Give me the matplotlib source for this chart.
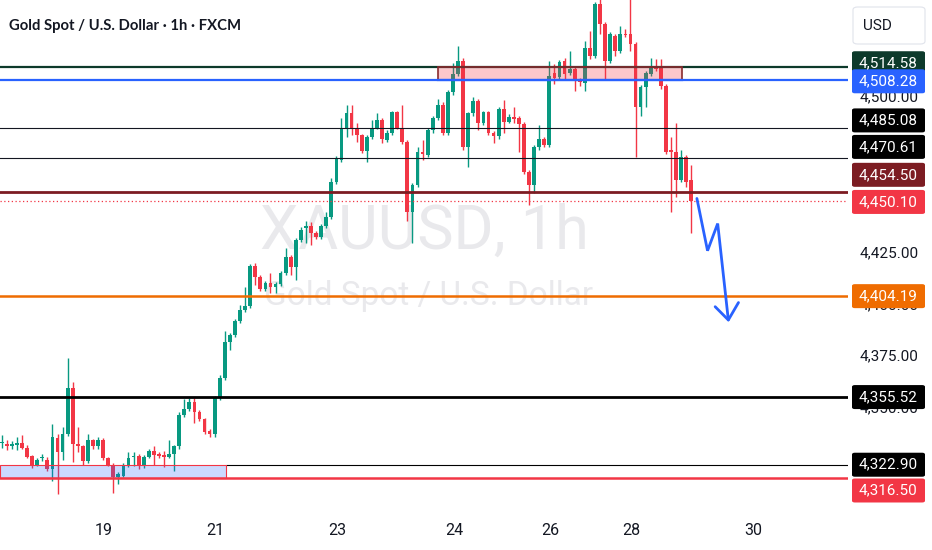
import matplotlib
matplotlib.use("Agg")
import matplotlib.pyplot as plt
from matplotlib.patches import Rectangle, FancyBboxPatch

# ---------------- data ----------------
opens = [4333.2, 4333.1, 4331.7, 4332.6, 4333.6, 4331.2, 4326.9, 4323.0, 4325.9, 4325.4,
         4320.6, 4336.0, 4328.8, 4337.9, 4360.1, 4333.1, 4331.7, 4324.5, 4334.6, 4331.7,
         4335.0, 4325.9, 4323.0, 4316.8, 4317.7, 4322.5, 4326.4, 4326.9, 4322.1, 4326.4,
         4329.3, 4327.9, 4327.4, 4326.4, 4328.3, 4331.7, 4347.1, 4350.0, 4353.3, 4348.5,
         4345.1, 4339.4, 4337.5, 4355.2, 4364.9, 4382.2, 4385.5, 4392.3, 4397.5, 4399.5,
         4418.7, 4413.4, 4407.6, 4410.5, 4408.6, 4410.1, 4415.3, 4423.0, 4418.2, 4431.2,
         4436.9, 4437.9, 4434.6, 4432.6, 4437.9, 4442.3, 4459.1, 4469.7, 4485.5, 4492.3,
         4485.5, 4481.7, 4474.0, 4480.7, 4485.5, 4488.9, 4479.3, 4483.1, 4492.8, 4485.5,
         4478.3, 4444.7, 4457.7, 4473.5, 4472.1, 4484.1, 4489.9, 4496.6, 4482.7, 4502.4,
         4511.5, 4517.8, 4475.9, 4492.3, 4498.5, 4487.5, 4492.8, 4482.7, 4481.2, 4494.2,
         4488.4, 4490.8, 4489.9, 4487.0, 4463.9, 4457.7, 4475.9, 4479.8, 4476.9, 4512.0,
         4510.0, 4517.8, 4512.0, 4513.9, 4508.6, 4507.2, 4524.0, 4520.2, 4545.2, 4535.5,
         4517.8, 4529.8, 4522.6, 4530.7, 4530.7, 4525.9, 4495.6, 4505.0, 4511.5, 4515.3,
         4514.4, 4505.7, 4474.5, 4473.5, 4460.1, 4471.1, 4460.1]
highs = [4337.0, 4335.0, 4334.1, 4336.5, 4337.0, 4332.2, 4327.4, 4325.9, 4328.3, 4326.4,
         4342.7, 4337.5, 4341.3, 4374.5, 4362.9, 4341.3, 4332.6, 4337.9, 4335.5, 4336.5,
         4336.0, 4326.4, 4323.6, 4319.2, 4323.5, 4328.8, 4328.8, 4327.9, 4327.8, 4330.7,
         4331.7, 4328.8, 4329.3, 4335.0, 4332.6, 4348.5, 4354.8, 4355.2, 4355.2, 4349.5,
         4345.6, 4340.3, 4356.2, 4366.3, 4387.5, 4386.5, 4393.2, 4399.9, 4408.6, 4419.7,
         4420.2, 4414.4, 4411.5, 4415.3, 4411.0, 4416.3, 4427.4, 4424.0, 4432.2, 4437.5,
         4440.3, 4439.9, 4435.5, 4438.9, 4444.7, 4461.0, 4471.6, 4489.9, 4496.6, 4496.6,
         4487.5, 4482.6, 4481.7, 4488.9, 4492.3, 4489.9, 4484.1, 4493.7, 4493.7, 4496.6,
         4479.3, 4458.7, 4475.9, 4479.3, 4485.1, 4490.9, 4499.5, 4497.6, 4503.4, 4516.8,
         4525.0, 4518.8, 4493.2, 4500.0, 4499.5, 4493.7, 4493.7, 4483.6, 4495.2, 4499.0,
         4491.8, 4495.2, 4490.9, 4488.0, 4464.9, 4476.9, 4486.5, 4480.7, 4517.8, 4516.3,
         4518.3, 4519.2, 4522.6, 4514.9, 4509.6, 4527.4, 4532.2, 4546.1, 4548.0, 4536.5,
         4531.6, 4530.7, 4534.6, 4533.1, 4549.0, 4526.9, 4506.0, 4513.0, 4519.2, 4518.7,
         4518.7, 4506.7, 4480.7, 4487.5, 4474.5, 4472.1, 4467.3]
lows = [4331.2, 4330.2, 4330.7, 4330.2, 4330.7, 4325.9, 4321.1, 4322.1, 4324.5, 4319.7,
        4314.9, 4308.6, 4325.4, 4336.9, 4324.0, 4328.8, 4323.0, 4323.6, 4330.7, 4330.7,
        4325.0, 4322.1, 4309.1, 4313.4, 4316.8, 4321.6, 4322.1, 4320.6, 4321.1, 4325.9,
        4323.0, 4326.0, 4321.6, 4325.9, 4320.1, 4330.7, 4346.1, 4349.0, 4343.2, 4344.2,
        4337.9, 4336.5, 4336.5, 4354.3, 4363.9, 4378.3, 4384.6, 4391.3, 4396.6, 4398.5,
        4409.6, 4406.7, 4406.7, 4405.7, 4405.7, 4409.1, 4414.4, 4414.4, 4412.0, 4430.3,
        4429.8, 4428.8, 4431.7, 4431.7, 4436.9, 4441.3, 4458.1, 4468.7, 4480.7, 4481.7,
        4478.3, 4473.0, 4468.7, 4479.8, 4484.6, 4477.9, 4478.3, 4482.1, 4484.6, 4477.4,
        4440.3, 4429.8, 4456.7, 4469.7, 4471.1, 4483.1, 4488.9, 4481.7, 4481.7, 4501.4,
        4510.5, 4474.5, 4466.3, 4491.3, 4484.1, 4486.5, 4481.7, 4477.9, 4480.2, 4482.7,
        4487.5, 4487.5, 4473.5, 4462.9, 4448.0, 4453.8, 4474.9, 4475.9, 4475.9, 4506.7,
        4509.1, 4509.1, 4511.0, 4503.3, 4505.7, 4503.3, 4518.7, 4519.2, 4530.7, 4509.1,
        4516.8, 4520.2, 4521.6, 4529.3, 4522.6, 4471.1, 4491.3, 4495.6, 4510.5, 4513.0,
        4504.3, 4472.6, 4444.7, 4451.9, 4459.1, 4456.7, 4434.6]
closes = [4333.6, 4331.7, 4333.1, 4333.6, 4331.2, 4326.4, 4322.5, 4325.0, 4326.2, 4320.6,
          4336.5, 4328.8, 4337.9, 4360.1, 4333.1, 4331.7, 4324.5, 4334.6, 4331.7, 4335.0,
          4325.9, 4323.0, 4316.8, 4318.2, 4322.5, 4325.9, 4326.9, 4322.1, 4326.4, 4329.3,
          4327.4, 4326.9, 4326.4, 4328.3, 4331.7, 4347.1, 4350.0, 4353.3, 4348.5, 4345.1,
          4338.9, 4337.5, 4355.2, 4364.9, 4382.2, 4385.5, 4392.3, 4397.5, 4399.5, 4418.7,
          4413.4, 4407.6, 4410.5, 4408.6, 4410.1, 4415.3, 4423.0, 4418.2, 4431.2, 4436.0,
          4437.9, 4434.6, 4432.6, 4437.9, 4442.3, 4459.1, 4470.6, 4485.5, 4492.3, 4485.5,
          4481.7, 4474.0, 4480.7, 4485.5, 4488.9, 4479.8, 4483.1, 4492.8, 4485.5, 4478.3,
          4444.7, 4457.7, 4473.5, 4472.6, 4484.1, 4489.9, 4496.6, 4482.7, 4502.4, 4511.5,
          4517.8, 4475.9, 4492.3, 4498.5, 4487.5, 4492.8, 4482.7, 4481.2, 4494.2, 4488.4,
          4490.8, 4489.4, 4487.0, 4463.9, 4457.7, 4475.9, 4479.8, 4476.9, 4510.5, 4509.6,
          4517.3, 4511.5, 4513.9, 4508.6, 4507.6, 4524.0, 4520.2, 4545.2, 4535.5, 4517.8,
          4530.7, 4522.6, 4530.7, 4530.3, 4525.9, 4495.6, 4505.0, 4512.0, 4515.3, 4513.9,
          4505.7, 4473.5, 4473.5, 4460.1, 4471.1, 4459.1, 4450.1]

date_labels = ["19", "21", "23", "24", "26", "28", "30"]
date_pos = [20.0, 42.1, 66.1, 89.2, 108.1, 124.1, 148.2]

tick_values = [4350, 4375, 4400, 4425, 4500]

level_values = [4514.58, 4508.28, 4485.08, 4470.61, 4454.50, 4450.10, 4404.19, 4355.52, 4322.90, 4316.50]
level_colors = ["#0d3a2b", "#2962ff", "#131722", "#131722", "#7c1c22", "#f23645", "#ef6c00", "#000000", "#000000", "#f23645"]
level_widths = [1.6, 1.6, 0.8, 0.8, 2.0, 0.9, 1.8, 2.0, 0.8, 1.8]
label_offsets = [-4, 1, -8, -11.5, -17, 1, 0, 0, 0, 12.5]

supply_zone = [86.1, 134.2, 4508.28, 4514.58]   # x0, x1, y0, y1
demand_zone = [-0.34, 44.2, 4316.50, 4322.90]

arrow_x = [137.1, 139.2, 141.2, 143.3]
arrow_y = [4451.3, 4426.1, 4439.2, 4392.7]
head_x = [140.7, 143.3, 145.3]
head_y = [4399.1, 4392.7, 4401.1]

# ---------------- figure ----------------
W, H = 932, 550
fig = plt.figure(figsize=(W / 100, H / 100), dpi=100)
fig.patch.set_facecolor("white")
ax = fig.add_axes([0, 1 - 512 / H, 848 / W, 512 / H])
ax.set_xlim(-0.34, 166.9)
ax.set_ylim(4300.1, 4547.0)
ax.set_facecolor("white")
for s in ax.spines.values():
    s.set_visible(False)
ax.set_yticks([])
ax.set_xticks(date_pos)
ax.set_xticklabels(date_labels, fontsize=11.5, color="#131722", fontfamily="Roboto")
ax.tick_params(axis="x", length=0, pad=8)

# watermark
ax.text(0.5, 1 - 232 / 512, "XAUUSD, 1h", transform=ax.transAxes, ha="center", va="center",
        fontsize=44, color="#e9e9ec", fontfamily="Roboto", zorder=0)
ax.text(0.505, 1 - 296 / 512, "Gold Spot / U.S. Dollar", transform=ax.transAxes, ha="center",
        va="center", fontsize=24, color="#e9e9ec", fontfamily="Roboto", zorder=0)

# candles
GREEN, RED = "#089981", "#f23645"
xs = list(range(len(closes)))
cols = [GREEN if c >= o else RED for o, c in zip(opens, closes)]
ax.vlines(xs, lows, highs, colors=cols, linewidth=1.0, zorder=2)
bottoms = [min(o, c) for o, c in zip(opens, closes)]
heights = [max(abs(c - o), 0.5) for o, c in zip(opens, closes)]
ax.bar(xs, heights, bottom=bottoms, width=0.74, color=cols, linewidth=0, zorder=3)

# horizontal levels
for v, c, lw in zip(level_values, level_colors, level_widths):
    if v == 4322.90:
        ax.hlines(v, demand_zone[1], 166.9, colors=c, linewidth=lw, zorder=5)
    elif v == 4450.10:
        ax.axhline(v, color=c, linewidth=lw, linestyle=(0, (1, 2)), zorder=5)
    else:
        ax.axhline(v, color=c, linewidth=lw, zorder=5)

# zones
ax.add_patch(Rectangle((supply_zone[0], supply_zone[2]), supply_zone[1] - supply_zone[0],
                       supply_zone[3] - supply_zone[2], facecolor="#f23645", alpha=0.28,
                       edgecolor="none", zorder=4))
ax.add_patch(Rectangle((supply_zone[0], supply_zone[2]), supply_zone[1] - supply_zone[0],
                       supply_zone[3] - supply_zone[2], facecolor="none",
                       edgecolor="#8a2a2e", linewidth=1.2, zorder=6))
ax.plot([supply_zone[0], supply_zone[1]], [supply_zone[2], supply_zone[2]], color="#2962ff", lw=1.6, zorder=6)
ax.add_patch(Rectangle((demand_zone[0], demand_zone[2]), demand_zone[1] - demand_zone[0],
                       demand_zone[3] - demand_zone[2], facecolor="#2962ff", alpha=0.24,
                       edgecolor="none", zorder=4))
ax.add_patch(Rectangle((demand_zone[0], demand_zone[2]), demand_zone[1] - demand_zone[0],
                       demand_zone[3] - demand_zone[2], facecolor="none",
                       edgecolor="#f23645", linewidth=0.8, zorder=6))

# arrow
ax.plot(arrow_x, arrow_y, color="#2962ff", lw=2.0, solid_capstyle="round", solid_joinstyle="miter", zorder=7)
ax.plot(head_x, head_y, color="#2962ff", lw=2.0, solid_capstyle="round", zorder=7)

# title
fig.text(9 / W, 1 - 26 / H, "Gold Spot / U.S. Dollar · 1h · FXCM", fontsize=10.7, fontweight="bold",
         color="#131722", va="center", ha="left", fontfamily="Lato")


def img_y(v):
    return H - ax.transData.transform((0, v))[1]


# price scale plain ticks
for t in tick_values:
    fig.text(860 / W, 1 - img_y(t) / H, f"{t:,.2f}", fontsize=11, color="#131722",
             va="center", ha="left", fontfamily="Roboto", zorder=1)

# price labels
for v, c, off in zip(level_values, level_colors, label_offsets):
    yc = img_y(v) + off
    bg = c if c != "#131722" else "#000000"
    box = FancyBboxPatch((852 / W, 1 - (yc + 12) / H), 73 / W, 24 / H,
                         boxstyle="round,pad=0,rounding_size=0.003", transform=fig.transFigure,
                         facecolor=bg, edgecolor="none", zorder=2)
    fig.add_artist(box)
    fig.text(859 / W, 1 - yc / H, f"{v:,.2f}", fontsize=11, color="white", va="center",
             ha="left", fontfamily="Roboto", zorder=3)

# USD box
fig.add_artist(FancyBboxPatch((853 / W, 1 - 44 / H), 72 / W, 37 / H,
                              boxstyle="round,pad=0,rounding_size=0.005", transform=fig.transFigure,
                              facecolor="white", edgecolor="#e0e3eb", linewidth=0.8, zorder=2))
fig.text(863 / W, 1 - 26 / H, "USD", fontsize=11, color="#131722", va="center", ha="left",
         fontfamily="Roboto", zorder=3)

fig.savefig("out.png", dpi=100, facecolor="white")
